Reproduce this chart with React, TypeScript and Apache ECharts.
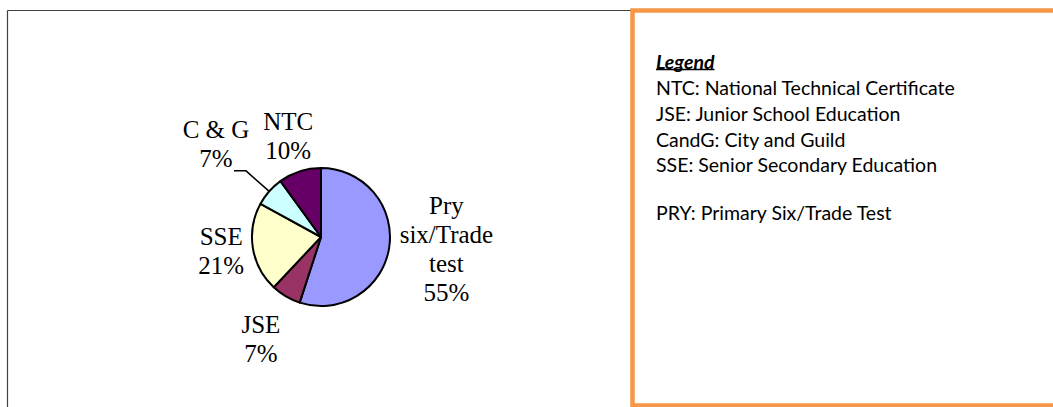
import React, { useEffect, useRef } from 'react';
import * as echarts from 'echarts';

// ---- data ----
const categories = ['Pry\nsix/Trade\ntest', 'JSE', 'SSE', 'C & G', 'NTC'];
const shares = [55, 7, 21, 7, 10];
const sliceColors = ['#9999FF', '#993366', '#FFFFCC', '#CCFFFF', '#660066'];
const legendTitle = 'Legend';
const legendLines = [
  'NTC: National Technical Certificate',
  'JSE: Junior School Education',
  'CandG: City and Guild',
  'SSE: Senior Secondary Education',
  'PRY: Primary Six/Trade Test',
];

// ---- layout / style ----
const CX = 321;
const CY = 237;
const R = 69;
const labelDist = [127, 118, 101, 140, 106];
const labelNudgeY = [-8, 0, -2, 0, 0];
const leaderIndex = 3;
const legendX = 656;
const legendTitleY = 61;
const legendLineY = [87, 113, 139, 164, 212];
const LEGEND_FONT = 'Lato, Carlito, Calibri, sans-serif';
const LABEL_FONT = '"Liberation Serif", "Palatino Linotype", serif';

export default function App() {
  const ref = useRef<HTMLDivElement>(null);

  useEffect(() => {
    if (!ref.current) return;
    const chart = echarts.init(ref.current, undefined, { renderer: 'svg' });

    const total = shares.reduce((a, b) => a + b, 0);
    let acc = 0;
    const mids = shares.map((v) => {
      const m = ((acc + v / 2) / total) * 2 * Math.PI;
      acc += v;
      return m;
    });

    let titleW = 60;
    try {
      const ctx = document.createElement('canvas').getContext('2d');
      if (ctx) {
        ctx.font = `italic bold 19.5px ${LEGEND_FONT}`;
        titleW = ctx.measureText(legendTitle).width;
      }
    } catch (e) {}

    const graphics: any[] = [
      {
        type: 'line',
        shape: { x1: 7.5, y1: 10.5, x2: 631, y2: 10.5 },
        style: { stroke: '#404040', lineWidth: 1.2 },
        z: 1,
      },
      {
        type: 'line',
        shape: { x1: 7.5, y1: 10.5, x2: 7.5, y2: 407 },
        style: { stroke: '#404040', lineWidth: 1.2 },
        z: 1,
      },
      {
        type: 'rect',
        shape: { x: 632.5, y: 10.5, width: 500, height: 395 },
        style: { fill: '#ffffff', stroke: '#F79646', lineWidth: 4.5 },
        z: 1,
      },
      {
        type: 'text',
        x: legendX,
        y: legendTitleY,
        style: {
          text: legendTitle,
          font: `italic bold 19.5px ${LEGEND_FONT}`,
          fill: '#000',
          align: 'left',
          verticalAlign: 'middle',
        },
        z: 2,
      },
      {
        type: 'line',
        shape: { x1: legendX, y1: legendTitleY + 8.5, x2: legendX + titleW, y2: legendTitleY + 8.5 },
        style: { stroke: '#000', lineWidth: 1.4 },
        z: 2,
      },
      ...legendLines.map((t, i) => ({
        type: 'text',
        x: legendX,
        y: legendLineY[i],
        style: {
          text: t,
          font: `19.5px ${LEGEND_FONT}`,
          fill: '#000',
          align: 'left',
          verticalAlign: 'middle',
        },
        z: 2,
      })),
    ];

    chart.setOption({
      animation: false,
      backgroundColor: '#ffffff',
      graphic: graphics,
      series: [
        {
          type: 'pie',
          center: [CX, CY],
          radius: R,
          startAngle: 90,
          clockwise: true,
          avoidLabelOverlap: false,
          percentPrecision: 0,
          itemStyle: { borderColor: '#000', borderWidth: 2 },
          emphasis: { disabled: true },
          label: {
            show: true,
            position: 'outside',
            fontFamily: LABEL_FONT,
            fontSize: 25,
            lineHeight: 29,
            color: '#000',
            formatter: (p: any) => `${p.name}\n${p.percent}%`,
          },
          labelLine: { show: false, lineStyle: { color: '#000', width: 1.5 } },
          labelLayout: (params: any) => {
            const i = params.dataIndex;
            const m = mids[i];
            const dx = Math.sin(m);
            const dy = -Math.cos(m);
            const t = labelDist[i];
            const res: any = {
              x: CX + t * dx,
              y: CY + t * dy + labelNudgeY[i],
              align: 'center',
              verticalAlign: 'middle',
            };
            if (i === leaderIndex) {
              const ex = CX + 100 * dx;
              const ey = CY + 100 * dy;
              res.labelLinePoints = [
                [CX + R * dx, CY + R * dy],
                [ex, ey],
                [ex - 12, ey],
              ];
            }
            return res;
          },
          data: categories.map((name, i) => ({
            name,
            value: shares[i],
            itemStyle: { color: sliceColors[i] },
            labelLine: { show: i === leaderIndex },
          })),
        },
      ],
    });

    return () => chart.dispose();
  }, []);

  return (
    <div
      ref={ref}
      style={{ position: 'fixed', left: 0, top: 0, width: 1053, height: 407, background: '#fff' }}
    />
  );
}
